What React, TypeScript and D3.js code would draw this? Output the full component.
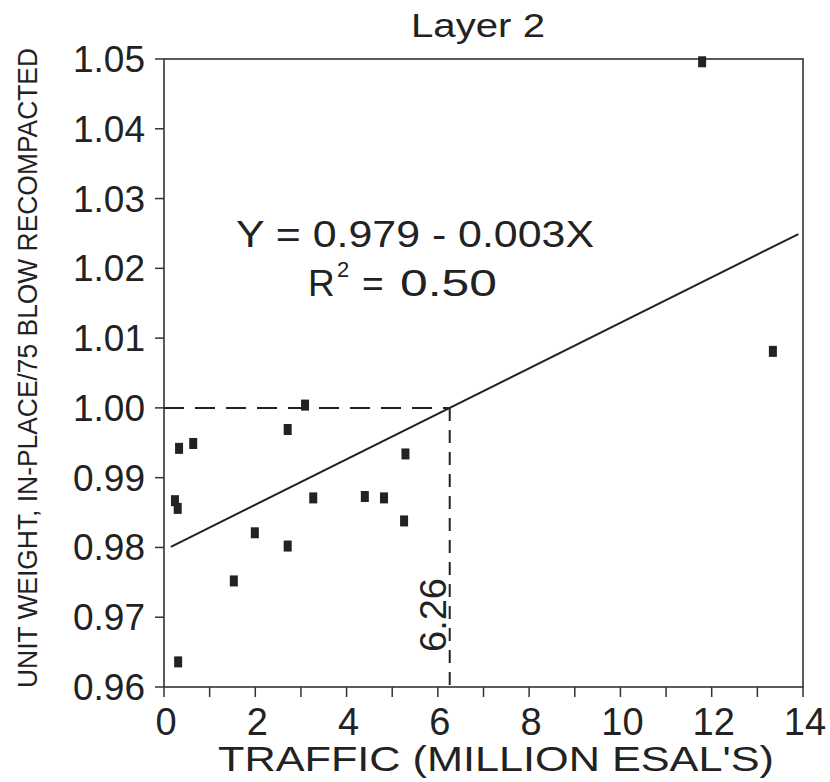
import React from "react";
import * as d3 from "d3";

const trafficX = [0.24, 0.3, 0.33, 0.64, 0.31, 1.53, 1.99, 2.71, 2.71, 3.09, 3.27, 4.4, 4.82, 5.26, 5.29, 11.79, 13.34];
const unitWeightY = [0.9867, 0.9856, 0.9942, 0.9949, 0.9636, 0.9752, 0.9821, 0.9802, 0.9969, 1.0004, 0.9871, 0.9873, 0.9871, 0.9838, 0.9934, 1.0496, 1.0081];
const xTicksMajor = [0, 2, 4, 6, 8, 10, 12, 14];
const xTicksMinor = [1, 3, 5, 7, 9, 11, 13];
const yTicks = [0.96, 0.97, 0.98, 0.99, 1.0, 1.01, 1.02, 1.03, 1.04, 1.05];
const fitIntercept = 0.9796;
const fitSlope = 0.00326;
const fitRange = [0.15, 13.9];
const crossX = 6.26;
const crossY = 1.0;

const FONT = "'Liberation Sans', Arial, sans-serif";

export default function App() {
  const W = 830, H = 782;
  const L = 164, R = 803, T = 59, B = 687;
  const x = d3.scaleLinear().domain([0, 14]).range([L, R]);
  const y = d3.scaleLinear().domain([0.96, 1.05]).range([B, T]);
  const fitLine = d3.line<number>().x((d) => x(d)).y((d) => y(fitIntercept + fitSlope * d));
  const ink = "#222";
  return (
    <svg width={W} height={H} style={{ position: "absolute", left: 0, top: 0, background: "#fff" }} fontFamily={FONT}>
      <rect x={0} y={0} width={W} height={H} fill="#fff" />
      {/* title */}
      <text x={478} y={37} textAnchor="middle" fontSize={33} fill={ink} textLength={134} lengthAdjust="spacingAndGlyphs">Layer 2</text>
      {/* frame */}
      <rect x={L} y={T} width={R - L} height={B - T} fill="none" stroke="#333" strokeWidth={1.6} />
      {/* y ticks */}
      {yTicks.map((t) => (
        <g key={"y" + t}>
          <line x1={L - 9} x2={L} y1={y(t)} y2={y(t)} stroke="#333" strokeWidth={1.5} />
          <text x={145} y={y(t) + 13} textAnchor="end" fontSize={37} fill={ink}>{d3.format(".2f")(t)}</text>
        </g>
      ))}
      {/* x ticks */}
      {xTicksMajor.concat(xTicksMinor).map((t) => (
        <line key={"xt" + t} x1={x(t)} x2={x(t)} y1={B} y2={B + 10} stroke="#333" strokeWidth={1.5} />
      ))}
      {xTicksMajor.map((t) => (
        <text key={"xl" + t} x={x(t) + 2} y={735} textAnchor="middle" fontSize={38} fill={ink}>{t}</text>
      ))}
      {/* axis titles */}
      <text x={496} y={771} textAnchor="middle" fontSize={35} fill={ink} textLength={556} lengthAdjust="spacingAndGlyphs">TRAFFIC (MILLION ESAL'S)</text>
      <text transform={`translate(37,368) rotate(-90)`} textAnchor="middle" fontSize={28} fill={ink} textLength={640} lengthAdjust="spacingAndGlyphs">UNIT WEIGHT, IN-PLACE/75 BLOW RECOMPACTED</text>
      {/* dashed guides */}
      <line x1={x(0)} x2={x(crossX)} y1={y(crossY)} y2={y(crossY)} stroke={ink} strokeWidth={2} strokeDasharray="20 11" />
      <line x1={x(crossX)} x2={x(crossX)} y1={y(crossY)} y2={y(0.96)} stroke={ink} strokeWidth={2} strokeDasharray="13 9" />
      <text transform={`translate(446,615) rotate(-90)`} textAnchor="middle" fontSize={36} fill={ink} textLength={74} lengthAdjust="spacingAndGlyphs">6.26</text>
      {/* fit line */}
      <path d={fitLine(fitRange) || ""} fill="none" stroke={ink} strokeWidth={2} />
      {/* equation */}
      <text x={415} y={247} textAnchor="middle" fontSize={36} fill={ink} textLength={358} lengthAdjust="spacingAndGlyphs">Y = 0.979 - 0.003X</text>
      <text x={308} y={296} fontSize={37} fill={ink}>R</text>
      <text x={337} y={277} fontSize={22} fill={ink}>2</text>
      <text x={362} y={296} fontSize={37} fill={ink}>=</text>
      <text x={400} y={296} fontSize={37} fill={ink} textLength={97} lengthAdjust="spacingAndGlyphs">0.50</text>
      {/* points */}
      {trafficX.map((xv, i) => (
        <rect key={"p" + i} x={x(xv) - 4} y={y(unitWeightY[i]) - 5.5} width={8} height={11} fill={ink} />
      ))}
    </svg>
  );
}
